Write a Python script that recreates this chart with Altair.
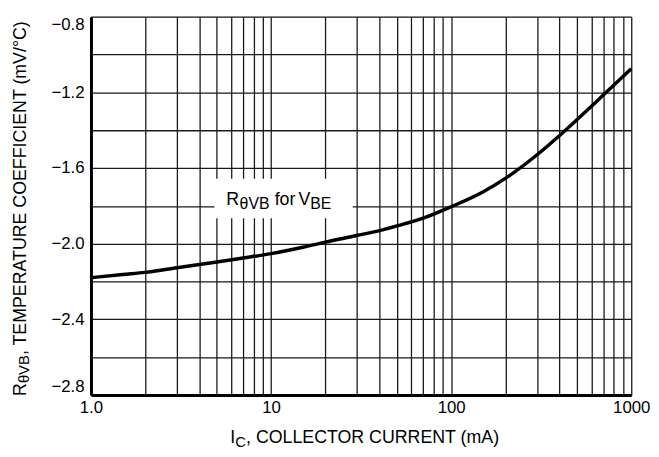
import altair as alt
import pandas as pd

# Data
current_ma = [1, 1.5, 2, 3, 5, 7, 10, 15, 20, 30, 40, 50, 70, 100, 150, 200, 300, 400, 500, 700, 1000]
temp_coeff = [-2.18, -2.163, -2.152, -2.127, -2.097, -2.076, -2.053, -2.019, -1.992, -1.957, -1.931,
              -1.906, -1.865, -1.805, -1.727, -1.655, -1.53, -1.428, -1.344, -1.214, -1.075]

x_grid = [1, 2, 3, 4, 5, 6, 7, 8, 9, 10, 20, 30, 40, 50, 60, 70, 80, 90,
          100, 200, 300, 400, 500, 600, 700, 800, 900, 1000]
x_labels = {1: "1.0", 10: "10", 100: "100", 1000: "1000"}
y_grid = [-2.8, -2.6, -2.4, -2.2, -2.0, -1.8, -1.6, -1.4, -1.2, -1.0, -0.8]

df = pd.DataFrame({"ic": current_ma, "tc": temp_coeff})

FONT = "Liberation Sans"
W, H = 547, 383
GRID = "#1a1a1a"

x_label_expr = " : ".join(
    [f"datum.value == {k} ? '{v}'" for k, v in x_labels.items()] + ["''"]
)

line = alt.Chart(df).mark_line(color="black", strokeWidth=3.5, interpolate="monotone").encode(
    x=alt.X("ic:Q",
            scale=alt.Scale(type="log", domain=[1, 1000], nice=False),
            axis=alt.Axis(values=x_grid, labelExpr=x_label_expr, title=None,
                          ticks=False, labelPadding=5, labelFontSize=17,
                          labelFont=FONT, labelColor="black",
                          grid=True, gridColor=GRID, gridWidth=1.3,
                          domainColor="black", domainWidth=3,
                          labelOverlap=False, labelFlush=False)),
    y=alt.Y("tc:Q",
            scale=alt.Scale(domain=[-2.8, -0.8], nice=False, zero=False),
            axis=alt.Axis(values=y_grid,
                          labelExpr="abs(round(datum.value*10)) % 4 == 0 ? format(datum.value, '.1f') : ''",
                          title=None, ticks=False, labelPadding=7, labelFontSize=17,
                          labelFont=FONT, labelColor="black",
                          grid=True, gridColor=GRID, gridWidth=1.3,
                          domainColor="black", domainWidth=3,
                          labelOverlap=False, labelFlush=True)),
)


def txt(s, x, y, size, angle=0, align="left"):
    return alt.Chart(alt.Data(values=[{}])).mark_text(
        text=s, font=FONT, fontSize=size, color="black", align=align,
        baseline="alphabetic", angle=angle
    ).encode(x=alt.value(x), y=alt.value(y))


box = alt.Chart(alt.Data(values=[{}])).mark_rect(color="white").encode(
    x=alt.value(125), x2=alt.value(265), y=alt.value(164), y2=alt.value(204)
)

annot = [
    txt("R", 137, 191, 18),
    txt("θVB", 150.5, 194.5, 16),
    txt("for", 186, 191, 18),
    txt("V", 210, 191, 18),
    txt("BE", 222, 194.5, 16),
]

x_title = [
    txt("I", 141, 432, 18),
    txt("C", 146, 436, 15),
    txt(", COLLECTOR CURRENT (mA)", 157, 432, 18),
]

y_title = [
    txt("R", -66, 384, 18, angle=270),
    txt("θVB", -62.5, 371, 15, angle=270),
    txt(", TEMPERATURE COEFFICIENT (mV/°C)", -66, 342.6, 18, angle=270),
]

chart = alt.layer(line, box, *annot, *x_title, *y_title).properties(
    width=W, height=H,
    autosize=alt.AutoSizeParams(type="none"),
    padding={"left": 84, "top": 6, "right": 20, "bottom": 57},
).configure_view(strokeWidth=0).configure(background="white")

chart.save("out.html", embed_options={"renderer": "svg", "actions": False})
